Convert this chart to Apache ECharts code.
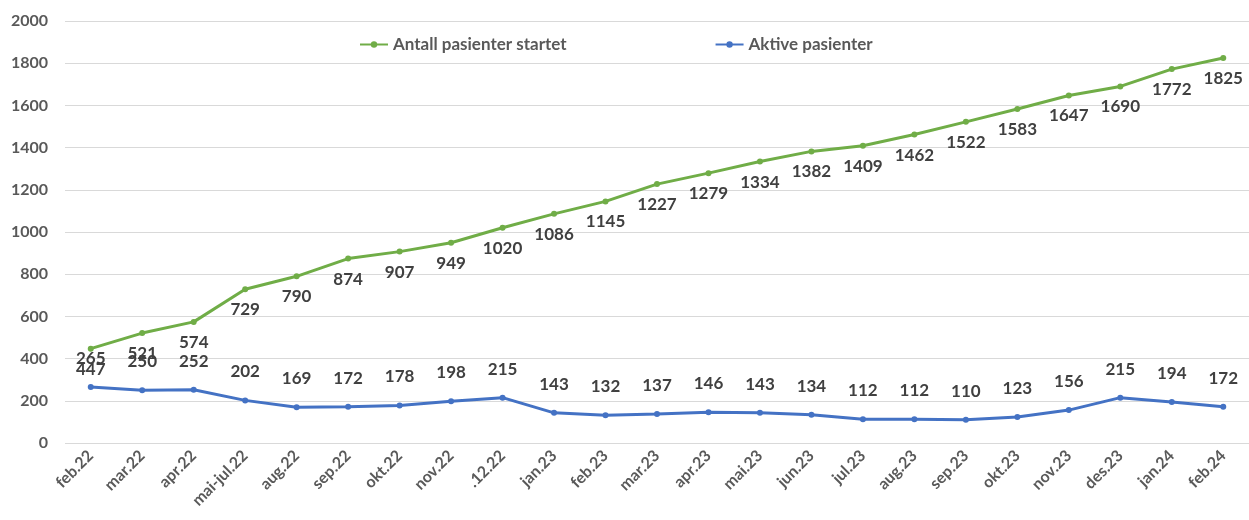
<!DOCTYPE html>
<html>
<head>
<meta charset="utf-8">
<script src="https://cdn.jsdelivr.net/npm/echarts@6/dist/echarts.min.js"></script>
<style>
  html, body { margin: 0; padding: 0; background: #fff; }
  #chart { width: 1249px; height: 520px; }
</style>
</head>
<body>
<div id="chart"></div>
<script>
const months = ['feb.22', 'mar.22', 'apr.22', 'mai-jul.22', 'aug.22', 'sep.22', 'okt.22', 'nov.22', '.12.22',
  'jan.23', 'feb.23', 'mar.23', 'apr.23', 'mai.23', 'jun.23', 'jul.23', 'aug.23', 'sep.23', 'okt.23',
  'nov.23', 'des.23', 'jan.24', 'feb.24'];
const startedPatients = [447, 521, 574, 729, 790, 874, 907, 949, 1020, 1086, 1145, 1227, 1279, 1334, 1382,
  1409, 1462, 1522, 1583, 1647, 1690, 1772, 1825];
const activePatients = [265, 250, 252, 202, 169, 172, 178, 198, 215, 143, 132, 137, 146, 143, 134,
  112, 112, 110, 123, 156, 215, 194, 172];
const yTicks = [0, 200, 400, 600, 800, 1000, 1200, 1400, 1600, 1800, 2000];

const font = 'Lato, "Liberation Sans", sans-serif';
const chart = echarts.init(document.getElementById('chart'));

const option = {
  animation: false,
  textStyle: { fontFamily: font },
  legend: {
    top: 31,
    left: 354,
    itemGap: 148,
    itemWidth: 28,
    itemHeight: 8,
    textStyle: { fontSize: 17, fontWeight: 'bold', color: '#595959', fontFamily: font }
  },
  grid: { left: 65, right: 0, top: 21, bottom: 77 },
  xAxis: {
    type: 'category',
    data: months,
    boundaryGap: true,
    axisLine: { show: false },
    axisTick: { show: false },
    axisLabel: {
      rotate: 45,
      interval: 0,
      margin: 10,
      fontSize: 16,
      fontWeight: 'bold',
      color: '#595959',
      fontFamily: font
    }
  },
  yAxis: {
    type: 'value',
    min: yTicks[0],
    max: yTicks[yTicks.length - 1],
    interval: 200,
    axisLabel: {
      margin: 17,
      fontSize: 16,
      fontWeight: 'bold',
      color: '#595959',
      fontFamily: font,
      formatter: v => String(v)
    },
    splitLine: { lineStyle: { color: '#d9d9d9', width: 1 } }
  },
  series: [
    {
      name: 'Antall pasienter startet',
      type: 'line',
      data: startedPatients,
      color: '#70ad47',
      symbol: 'circle',
      symbolSize: 6,
      lineStyle: { width: 3 },
      label: {
        show: true,
        position: 'bottom',
        distance: 9,
        fontSize: 17,
        fontWeight: 'bold',
        color: '#404040',
        fontFamily: font
      }
    },
    {
      name: 'Aktive pasienter',
      type: 'line',
      data: activePatients,
      color: '#4472c4',
      symbol: 'circle',
      symbolSize: 6,
      lineStyle: { width: 3 },
      label: {
        show: true,
        position: 'top',
        distance: 17,
        fontSize: 17,
        fontWeight: 'bold',
        color: '#404040',
        fontFamily: font
      }
    }
  ]
};

chart.setOption(option);
window.addEventListener('resize', () => {
  chart.resize();
});
</script>
</body>
</html>
